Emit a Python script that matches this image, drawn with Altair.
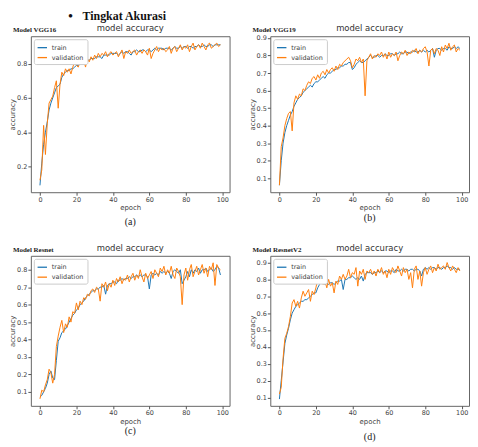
import altair as alt
import pandas as pd

epochs = list(range(100))
series_names = ["train", "validation"]
x_ticks = [0, 20, 40, 60, 80, 100]

a_train = [0.09,0.22,0.33,0.40,0.46,0.53,0.57,0.60,0.63,0.66,
0.67,0.68,0.72,0.74,0.75,0.76,0.76,0.77,0.77,0.78,
0.79,0.79,0.80,0.80,0.81,0.82,0.82,0.82,0.83,0.83,
0.83,0.84,0.84,0.84,0.83,0.85,0.85,0.85,0.85,0.86,
0.86,0.86,0.86,0.85,0.86,0.87,0.86,0.87,0.87,0.86,
0.85,0.87,0.87,0.88,0.87,0.87,0.88,0.88,0.87,0.88,
0.88,0.87,0.88,0.89,0.88,0.89,0.89,0.89,0.88,0.89,
0.89,0.89,0.88,0.89,0.90,0.89,0.89,0.90,0.89,0.90,
0.90,0.89,0.90,0.90,0.89,0.90,0.90,0.91,0.90,0.90,
0.91,0.90,0.90,0.91,0.91,0.90,0.91,0.91,0.91,0.91]
a_val = [0.12,0.18,0.44,0.27,0.45,0.57,0.59,0.61,0.66,0.70,
0.54,0.68,0.75,0.73,0.77,0.75,0.77,0.74,0.78,0.81,
0.79,0.78,0.81,0.80,0.82,0.78,0.83,0.81,0.84,0.82,
0.85,0.83,0.86,0.84,0.86,0.85,0.87,0.84,0.86,0.87,
0.85,0.86,0.87,0.84,0.86,0.88,0.83,0.87,0.86,0.88,
0.86,0.87,0.88,0.85,0.87,0.88,0.86,0.88,0.87,0.85,
0.89,0.83,0.86,0.88,0.90,0.87,0.89,0.88,0.89,0.87,
0.88,0.90,0.86,0.89,0.90,0.87,0.89,0.91,0.88,0.90,
0.89,0.91,0.87,0.90,0.92,0.88,0.90,0.91,0.89,0.92,
0.90,0.88,0.91,0.92,0.89,0.90,0.91,0.92,0.90,0.91]

b_train = [0.06,0.20,0.30,0.36,0.40,0.43,0.46,0.48,0.51,0.53,
0.55,0.56,0.57,0.59,0.60,0.61,0.62,0.63,0.62,0.64,
0.65,0.65,0.66,0.67,0.68,0.67,0.69,0.70,0.70,0.71,
0.72,0.72,0.73,0.73,0.74,0.74,0.75,0.75,0.76,0.76,
0.72,0.73,0.75,0.76,0.77,0.76,0.76,0.77,0.78,0.79,
0.80,0.79,0.79,0.80,0.80,0.79,0.80,0.80,0.81,0.80,
0.80,0.81,0.81,0.80,0.81,0.81,0.82,0.81,0.81,0.82,
0.82,0.81,0.82,0.82,0.83,0.82,0.82,0.83,0.82,0.83,
0.82,0.83,0.82,0.83,0.84,0.79,0.83,0.84,0.84,0.83,
0.84,0.84,0.83,0.85,0.84,0.84,0.85,0.84,0.85,0.84]
b_val = [0.06,0.28,0.33,0.40,0.44,0.47,0.48,0.37,0.53,0.57,
0.55,0.58,0.57,0.61,0.60,0.63,0.65,0.64,0.67,0.68,
0.66,0.69,0.67,0.70,0.71,0.69,0.72,0.70,0.72,0.73,
0.71,0.74,0.72,0.75,0.74,0.76,0.77,0.78,0.79,0.77,
0.73,0.75,0.78,0.77,0.79,0.76,0.78,0.57,0.77,0.79,
0.81,0.78,0.80,0.79,0.81,0.80,0.82,0.79,0.81,0.78,
0.82,0.79,0.81,0.80,0.82,0.77,0.80,0.82,0.81,0.83,
0.80,0.82,0.81,0.83,0.82,0.84,0.81,0.83,0.82,0.84,
0.85,0.82,0.74,0.83,0.84,0.81,0.84,0.83,0.80,0.85,
0.82,0.86,0.84,0.87,0.83,0.85,0.86,0.82,0.84,0.83]

c_train = [0.07,0.08,0.10,0.12,0.15,0.20,0.22,0.18,0.17,0.28,
0.39,0.41,0.44,0.45,0.46,0.48,0.50,0.52,0.54,0.55,
0.57,0.58,0.60,0.61,0.62,0.64,0.65,0.66,0.67,0.68,
0.68,0.69,0.69,0.70,0.70,0.71,0.66,0.71,0.72,0.72,
0.73,0.73,0.72,0.74,0.74,0.75,0.74,0.75,0.75,0.76,
0.75,0.76,0.76,0.77,0.76,0.77,0.76,0.77,0.77,0.76,
0.69,0.77,0.78,0.77,0.78,0.77,0.79,0.78,0.79,0.78,
0.79,0.78,0.75,0.79,0.80,0.79,0.78,0.80,0.72,0.74,
0.76,0.79,0.76,0.80,0.78,0.80,0.79,0.81,0.78,0.80,
0.80,0.81,0.79,0.80,0.81,0.79,0.80,0.82,0.81,0.77]
c_val = [0.06,0.11,0.10,0.14,0.17,0.23,0.21,0.15,0.20,0.36,
0.42,0.47,0.51,0.44,0.49,0.47,0.53,0.50,0.56,0.55,
0.61,0.57,0.62,0.60,0.64,0.63,0.66,0.65,0.68,0.69,
0.67,0.70,0.69,0.62,0.72,0.70,0.73,0.68,0.72,0.70,
0.74,0.71,0.75,0.73,0.76,0.72,0.75,0.74,0.77,0.73,
0.76,0.78,0.74,0.77,0.75,0.80,0.76,0.73,0.78,0.75,
0.77,0.79,0.75,0.80,0.78,0.76,0.81,0.79,0.82,0.77,
0.80,0.78,0.82,0.77,0.75,0.81,0.79,0.76,0.60,0.77,
0.81,0.74,0.80,0.83,0.76,0.79,0.82,0.77,0.80,0.83,
0.78,0.81,0.76,0.82,0.80,0.84,0.71,0.83,0.81,0.80]

d_train = [0.09,0.20,0.31,0.42,0.47,0.51,0.56,0.60,0.62,0.64,
0.65,0.66,0.67,0.67,0.68,0.68,0.69,0.70,0.71,0.72,
0.72,0.75,0.77,0.78,0.78,0.77,0.78,0.77,0.78,0.78,
0.77,0.78,0.79,0.79,0.80,0.74,0.80,0.80,0.81,0.81,
0.82,0.81,0.80,0.81,0.80,0.82,0.79,0.83,0.84,0.84,
0.84,0.83,0.84,0.84,0.85,0.84,0.85,0.84,0.85,0.85,
0.84,0.85,0.85,0.84,0.86,0.85,0.85,0.86,0.85,0.86,
0.86,0.85,0.86,0.86,0.85,0.86,0.86,0.85,0.82,0.86,
0.87,0.86,0.87,0.86,0.87,0.87,0.86,0.87,0.87,0.86,
0.87,0.87,0.88,0.87,0.87,0.86,0.87,0.86,0.86,0.86]
d_val = [0.12,0.16,0.33,0.45,0.48,0.52,0.58,0.66,0.68,0.64,
0.67,0.63,0.69,0.73,0.70,0.72,0.74,0.67,0.73,0.71,
0.75,0.80,0.78,0.80,0.77,0.79,0.75,0.80,0.76,0.78,
0.72,0.79,0.77,0.82,0.80,0.83,0.80,0.82,0.86,0.81,
0.84,0.83,0.87,0.76,0.85,0.83,0.86,0.80,0.85,0.84,
0.86,0.83,0.85,0.82,0.86,0.84,0.87,0.83,0.85,0.81,
0.86,0.83,0.87,0.85,0.84,0.88,0.85,0.82,0.87,0.84,
0.86,0.80,0.84,0.75,0.86,0.88,0.80,0.85,0.76,0.84,
0.87,0.83,0.86,0.88,0.84,0.87,0.85,0.89,0.86,0.87,
0.88,0.86,0.90,0.87,0.85,0.88,0.86,0.84,0.87,0.85]

W = 200
H1, H2 = 157, 151


def text_layer(txt, x, y, **kw):
    return alt.Chart(pd.DataFrame({"t": [txt]})).mark_text(**kw).encode(
        x=alt.value(x), y=alt.value(y), text="t:N")


def panel(train, val, ydom, yticks, label, caption, H, cap_dy, heading=False):
    df = pd.DataFrame({
        "epoch": epochs * 2,
        "accuracy": train + val,
        "series": ["train"] * 100 + ["validation"] * 100,
    })
    lines = alt.Chart(df).mark_line(strokeWidth=1, clip=True).encode(
        x=alt.X("epoch:Q", scale=alt.Scale(domain=[-5, 104], nice=False, zero=False),
                axis=alt.Axis(values=x_ticks, title="epoch")),
        y=alt.Y("accuracy:Q", scale=alt.Scale(domain=ydom, nice=False, zero=False),
                axis=alt.Axis(values=yticks, format=".1f", title="accuracy")),
        color=alt.Color("series:N",
                        scale=alt.Scale(domain=series_names, range=["#1f77b4", "#ff7f0e"]),
                        legend=alt.Legend(title=None, orient="top-left")),
    )
    layers = [
        lines,
        text_layer(label, -18, -3, font="Liberation Serif", fontWeight="bold", fontSize=7,
                   align="left", baseline="bottom", color="#222"),
        text_layer("model accuracy", W / 2, -3, font="DejaVu Sans", fontSize=8.5,
                   align="center", baseline="bottom", color="#333"),
        text_layer(caption, W / 2, H + cap_dy, font="Liberation Serif", fontSize=10,
                   align="center", baseline="middle", color="#222"),
    ]
    if heading:
        layers.append(text_layer("\u2022", 40, -20, font="Liberation Serif", fontWeight="bold",
                                 fontSize=13, align="center", baseline="middle", color="#111"))
        layers.append(text_layer("Tingkat Akurasi", 52, -20, font="Liberation Serif",
                                 fontWeight="bold", fontSize=12, align="left",
                                 baseline="middle", color="#111"))
    return alt.layer(*layers).properties(width=W, height=H)


pa = panel(a_train, a_val, [0.05, 0.96], [0.2, 0.4, 0.6, 0.8], "Model VGG16", "(a)", H1, 30,
           heading=True)
pb = panel(b_train, b_val, [0.02, 0.91], [0.1, 0.2, 0.3, 0.4, 0.5, 0.6, 0.7, 0.8, 0.9],
           "Model VGG19", "(b)", H1, 26)
pc = panel(c_train, c_val, [0.02, 0.88], [0.1, 0.2, 0.3, 0.4, 0.5, 0.6, 0.7, 0.8],
           "Model Resnet", "(c)", H2, 25)
pd_ = panel(d_train, d_val, [0.05, 0.94], [0.1, 0.2, 0.3, 0.4, 0.5, 0.6, 0.7, 0.8, 0.9],
            "Model ResnetV2", "(d)", H2, 31)

row1 = alt.hconcat(pa, pb, spacing=17).resolve_scale(color="independent").resolve_legend(color="independent")
row2 = alt.hconcat(pc, pd_, spacing=17).resolve_scale(color="independent").resolve_legend(color="independent")

chart = alt.vconcat(row1, row2, spacing=15).resolve_scale(color="independent").resolve_legend(
    color="independent"
).properties(
    background="white", padding=0
).configure_axis(
    labelFontSize=6.5, titleFontSize=7, labelColor="#444", titleColor="#444",
    tickColor="#555", domain=False, grid=False, tickSize=3, labelPadding=1,
    titlePadding=1, labelFont="DejaVu Sans", titleFont="DejaVu Sans", titleFontWeight="normal",
).configure_view(
    stroke="#666", strokeWidth=1
).configure_legend(
    offset=3, fillColor="white", strokeColor="#ccc", padding=3, cornerRadius=2,
    labelFontSize=6.5, labelFont="DejaVu Sans", labelColor="#444", symbolType="stroke",
    symbolStrokeWidth=1.3, symbolSize=90, rowPadding=1,
)

chart.save("out.html", embed_options={"renderer": "svg", "actions": False})
